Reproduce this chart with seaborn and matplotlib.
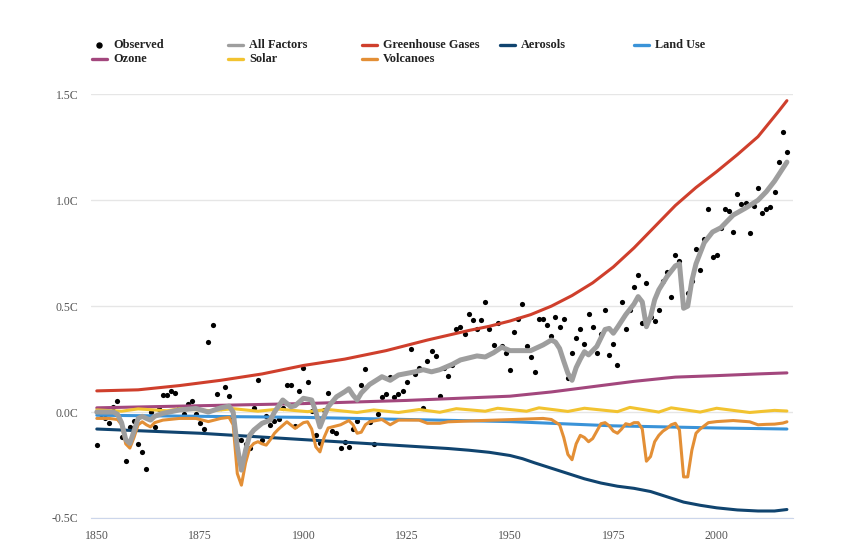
import seaborn as sns
import matplotlib.pyplot as plt
from matplotlib.lines import Line2D

# observed annual temperature (C), 1850-2017
obs_years = list(range(1850, 2018))
observed = [
    -0.155, -0.01, -0.03, -0.05, 0.025, 0.053, -0.12, -0.23, -0.07, -0.04,
    -0.15, -0.19, -0.27, 0.0, -0.07, 0.015, 0.08, 0.08, 0.10, 0.09,
    0.02, -0.01, 0.04, 0.05, -0.01, -0.05, -0.08, 0.33, 0.41, 0.085,
    0.02, 0.12, 0.077, -0.03, -0.13, -0.13, -0.15, -0.17, 0.02, 0.15,
    -0.13, -0.02, -0.06, -0.04, -0.035, 0.02, 0.13, 0.13, -0.065, 0.10,
    0.21, 0.14, 0.006, -0.11, -0.145, 0.01, 0.09, -0.09, -0.10, -0.17,
    -0.14, -0.165, -0.08, -0.04, 0.13, 0.205, -0.046, -0.15, -0.01, 0.07,
    0.085, 0.167, 0.07, 0.085, 0.10, 0.14, 0.30, 0.18, 0.21, 0.02,
    0.24, 0.29, 0.265, 0.074, 0.21, 0.17, 0.22, 0.39, 0.40, 0.37,
    0.465, 0.435, 0.39, 0.435, 0.52, 0.39, 0.315, 0.42, 0.31, 0.28,
    0.20, 0.38, 0.44, 0.51, 0.31, 0.26, 0.19, 0.44, 0.44, 0.41,
    0.36, 0.45, 0.40, 0.44, 0.16, 0.28, 0.35, 0.39, 0.32, 0.465,
    0.40, 0.28, 0.37, 0.48, 0.27, 0.32, 0.22, 0.52, 0.39, 0.48,
    0.59, 0.645, 0.42, 0.61, 0.45, 0.43, 0.48, 0.62, 0.66, 0.545,
    0.74, 0.715, 0.50, 0.56, 0.62, 0.77, 0.67, 0.815, 0.96, 0.73,
    0.74, 0.87, 0.96, 0.947, 0.85, 1.03, 0.98, 0.985, 0.846, 0.975,
    1.056, 0.94, 0.957, 0.97, 1.04, 1.18, 1.32, 1.226,
]

# all factors (model)
all_years = [1850, 1854, 1855, 1856, 1857, 1858, 1859, 1860, 1861, 1862, 1863, 1864, 1866,
             1870, 1874, 1877, 1880, 1882, 1883, 1884, 1885, 1886, 1887, 1888, 1890, 1892,
             1893, 1895, 1897, 1898, 1900, 1902, 1903, 1904, 1905, 1906, 1908, 1910, 1911,
             1912, 1913, 1914, 1916, 1919, 1921, 1923, 1927, 1929, 1931, 1933, 1936, 1938,
             1942, 1944, 1946, 1948, 1950, 1952, 1955, 1958, 1960, 1961, 1962, 1963, 1964,
             1965, 1966, 1967, 1968, 1969, 1970, 1971, 1972, 1973, 1974, 1975, 1976, 1978,
             1980, 1981, 1982, 1983, 1984, 1985, 1986, 1988, 1990, 1991, 1992, 1993, 1994,
             1995, 1997, 1999, 2001, 2004, 2007, 2010, 2012, 2014, 2016, 2017]
all_factors = [0.0, 0.0, -0.01, -0.05, -0.13, -0.148, -0.09, -0.03, -0.02, -0.03, -0.038, -0.02, -0.006,
               0.01, 0.017, 0.0, 0.02, 0.028, 0.0, -0.164, -0.274, -0.18, -0.11, -0.085, -0.053, -0.038,
               0.0, 0.057, 0.025, 0.03, 0.065, 0.057, 0.0, -0.07, -0.02, 0.025, 0.072, 0.096, 0.11,
               0.08, 0.057, 0.09, 0.13, 0.167, 0.15, 0.175, 0.19, 0.20, 0.19, 0.20, 0.225, 0.246,
               0.265, 0.26, 0.28, 0.306, 0.29, 0.29, 0.29, 0.317, 0.34, 0.33, 0.30, 0.24, 0.183,
               0.15, 0.21, 0.25, 0.285, 0.27, 0.29, 0.31, 0.35, 0.39, 0.395, 0.372, 0.40, 0.46,
               0.51, 0.545, 0.52, 0.403, 0.45, 0.53, 0.577, 0.64, 0.69, 0.70, 0.49, 0.50, 0.62,
               0.70, 0.80, 0.85, 0.87, 0.93, 0.963, 1.0, 1.04, 1.09, 1.15, 1.18]

ghg_years = [1850, 1860, 1870, 1880, 1890, 1900, 1910, 1920, 1930, 1940, 1945, 1950, 1955,
             1960, 1965, 1970, 1975, 1980, 1985, 1990, 1995, 2000, 2005, 2010, 2015, 2017]
greenhouse = [0.10, 0.105, 0.125, 0.15, 0.18, 0.22, 0.25, 0.29, 0.34, 0.385, 0.405, 0.43, 0.46,
              0.50, 0.55, 0.61, 0.685, 0.775, 0.875, 0.975, 1.06, 1.135, 1.215, 1.30, 1.42, 1.47]

aer_years = [1850, 1875, 1900, 1915, 1935, 1940, 1945, 1950, 1953, 1956, 1960, 1964, 1968,
             1972, 1976, 1980, 1984, 1988, 1992, 1996, 2000, 2005, 2010, 2014, 2017]
aerosols = [-0.08, -0.10, -0.13, -0.148, -0.172, -0.18, -0.19, -0.205, -0.22, -0.24, -0.265,
            -0.29, -0.315, -0.335, -0.35, -0.36, -0.375, -0.40, -0.425, -0.44, -0.452, -0.462,
            -0.467, -0.467, -0.46]

land_years = [1850, 1900, 1925, 1950, 1975, 2000, 2017]
land_use = [-0.015, -0.025, -0.035, -0.045, -0.065, -0.075, -0.08]

ozone_years = [1850, 1875, 1900, 1925, 1950, 1960, 1970, 1980, 1990, 2000, 2010, 2017]
ozone = [0.02, 0.03, 0.04, 0.055, 0.075, 0.095, 0.12, 0.145, 0.165, 0.172, 0.18, 0.185]

solar_years = [1850, 1856, 1860, 1867, 1870, 1878, 1883, 1889, 1894, 1901, 1906, 1913, 1917,
               1923, 1928, 1933, 1937, 1944, 1947, 1954, 1957, 1964, 1968, 1976, 1979, 1986,
               1989, 1996, 2000, 2008, 2014, 2017]
solar = [0.01, 0.004, 0.015, 0.006, 0.016, 0.006, 0.016, 0.004, 0.014, 0.002, 0.012, -0.002, 0.01,
         -0.002, 0.012, -0.001, 0.016, 0.004, 0.018, 0.004, 0.02, 0.003, 0.018, 0.002, 0.022, 0.0,
         0.02, 0.0, 0.018, -0.002, 0.008, 0.005]

volc_years = [1850, 1853, 1855, 1856, 1857, 1858, 1859, 1860, 1861, 1862, 1863, 1864, 1866, 1870,
              1874, 1877, 1880, 1882, 1883, 1884, 1885, 1886, 1887, 1888, 1889, 1890, 1891, 1892,
              1893, 1894, 1896, 1898, 1900, 1901, 1902, 1903, 1904, 1905, 1906, 1909, 1911, 1912,
              1913, 1914, 1915, 1916, 1919, 1921, 1923, 1928, 1930, 1933, 1935, 1943, 1951, 1958,
              1960, 1962, 1963, 1964, 1965, 1966, 1967, 1968, 1969, 1970, 1971, 1972, 1973, 1974,
              1975, 1976, 1977, 1978, 1979, 1980, 1981, 1982, 1983, 1984, 1985, 1986, 1987, 1988,
              1989, 1990, 1991, 1992, 1993, 1994, 1995, 1996, 1998, 2000, 2004, 2008, 2010, 2012,
              2014, 2016, 2017]
volcanoes = [-0.03, -0.03, -0.035, -0.06, -0.15, -0.17, -0.12, -0.06, -0.046, -0.06, -0.07, -0.05,
             -0.038, -0.03, -0.03, -0.045, -0.03, -0.025, -0.06, -0.29, -0.345, -0.24, -0.17,
             -0.148, -0.14, -0.15, -0.156, -0.13, -0.10, -0.08, -0.046, -0.077, -0.05, -0.046,
             -0.08, -0.164, -0.188, -0.12, -0.075, -0.06, -0.04, -0.06, -0.10, -0.095, -0.06,
             -0.046, -0.035, -0.06, -0.038, -0.038, -0.053, -0.053, -0.046, -0.04, -0.035, -0.03,
             -0.035, -0.06, -0.12, -0.20, -0.225, -0.15, -0.11, -0.12, -0.14, -0.125, -0.09,
             -0.055, -0.05, -0.065, -0.09, -0.10, -0.08, -0.055, -0.06, -0.05, -0.05, -0.08,
             -0.232, -0.21, -0.14, -0.11, -0.09, -0.077, -0.06, -0.053, -0.085, -0.306, -0.306,
             -0.18, -0.10, -0.08, -0.05, -0.045, -0.04, -0.046, -0.06, -0.058, -0.057, -0.052,
             -0.046]

sns.set_style("white")
plt.rcParams['font.family'] = ['Liberation Serif', 'DejaVu Serif']

fig = plt.figure(figsize=(8.45, 5.58), dpi=100)
ax = fig.add_axes([0.1077, 0.0717, 0.8304, 0.7593])

sns.scatterplot(x=obs_years, y=observed, color='black', s=14, linewidth=0, ax=ax, zorder=2)

series = [
    (ghg_years, greenhouse, '#cf3f2c', 2.2),
    (aer_years, aerosols, '#10446f', 2.2),
    (land_years, land_use, '#3a93d8', 2.2),
    (ozone_years, ozone, '#a3477d', 2.2),
    (solar_years, solar, '#f2c330', 2.2),
    (volc_years, volcanoes, '#e38f36', 2.2),
    (all_years, all_factors, '#9e9e9e', 3.6),
]
for xs, ys, col, lw in series:
    sns.lineplot(x=xs, y=ys, color=col, linewidth=lw, ax=ax, zorder=3,
                 solid_joinstyle='round', solid_capstyle='round')

ax.set_xlim(1848.6, 2018.4)
ax.set_ylim(-0.5, 1.5)
ax.set_xticks([1850, 1875, 1900, 1925, 1950, 1975, 2000])
ax.set_yticks([-0.5, 0.0, 0.5, 1.0, 1.5])
ax.set_yticklabels([f"{v:.1f}C" for v in [-0.5, 0.0, 0.5, 1.0, 1.5]])
ax.tick_params(axis='x', length=6, width=1, color='#ccd6eb', pad=3, labelsize=8.5, labelcolor='#555555')
ax.tick_params(axis='y', length=0, pad=9, labelsize=8.5, labelcolor='#555555')
ax.yaxis.grid(True, color='#e6e6e6', linewidth=1)
ax.set_axisbelow(True)
for side in ['top', 'right', 'left']:
    ax.spines[side].set_visible(False)
ax.spines['bottom'].set_color('#ccd6eb')
ax.spines['bottom'].set_zorder(1)
ax.set_xlabel('')
ax.set_ylabel('')

# legend, laid out in two rows like the original
W, H = 845, 558
legend_items = [
    ('Observed', None, 92, 45),
    ('All Factors', '#9e9e9e', 228, 45),
    ('Greenhouse Gases', '#cf3f2c', 362, 45),
    ('Aerosols', '#10446f', 500, 45),
    ('Land Use', '#3a93d8', 634, 45),
    ('Ozone', '#a3477d', 92, 59),
    ('Solar', '#f2c330', 228, 59),
    ('Volcanoes', '#e38f36', 362, 59),
]
for label, col, px, py in legend_items:
    fy = 1 - py / H
    if col is None:
        fig.add_artist(Line2D([(px + 7) / W], [fy], marker='o', color='black',
                              markersize=3.6, linestyle='none', transform=fig.transFigure))
    else:
        fig.add_artist(Line2D([px / W, (px + 15) / W], [fy, fy], color=col, linewidth=2.4,
                              transform=fig.transFigure))
    fig.text((px + 21) / W, fy, label, fontsize=8.8, fontweight='bold', color='#222222',
             va='center', ha='left')

fig.savefig('out.png', dpi=100)
